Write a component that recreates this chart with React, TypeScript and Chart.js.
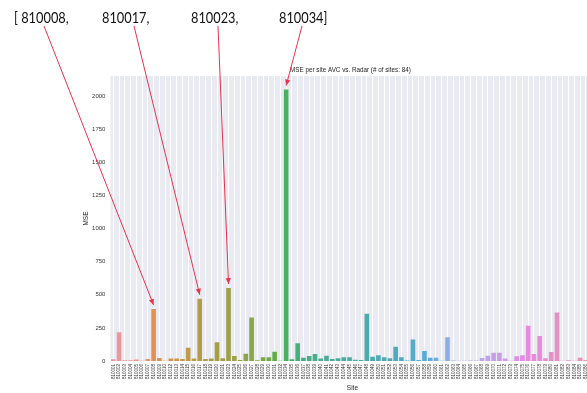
import React, { useEffect, useRef } from 'react';
import { Chart, registerables } from 'chart.js';

Chart.register(...registerables);

// Site identifiers along the x axis (84 sites)
const SITES = [
  '810001', '810002', '810003', '810004', '810005', '810006', '810007', '810008',
  '810009', '810010', '810012', '810013', '810014', '810015', '810016', '810017',
  '810018', '810019', '810020', '810021', '810023', '810024', '810025', '810026',
  '810027', '810028', '810029', '810030', '810031', '810032', '810034', '810035',
  '810036', '810037', '810038', '810039', '810040', '810041', '810042', '810043',
  '810044', '810045', '810046', '810047', '810048', '810049', '810050', '810051',
  '810052', '810053', '810054', '810055', '810056', '810057', '810058', '810059',
  '810060', '810061', '810062', '810063', '810064', '810065', '810066', '810067',
  '810068', '810069', '810070', '810071', '810072', '810073', '810074', '810075',
  '810076', '810077', '810078', '810079', '810080', '810081', '810082', '810083',
  '810084', '810085', '810086', '810087',
];

// Mean squared error per site
const MSE = [
  13, 217, 5, 5, 12, 1, 15, 392,
  22, 2, 18, 18, 15, 101, 18, 470,
  15, 18, 142, 20, 551, 38, 8, 55,
  328, 5, 28, 28, 70, 1, 2050, 13,
  134, 25, 38, 52, 18, 40, 15, 20,
  28, 28, 10, 8, 356, 33, 43, 28,
  20, 108, 28, 3, 162, 8, 76, 25,
  25, 2, 179, 3, 1, 1, 3, 3,
  22, 40, 63, 63, 18, 1, 35, 43,
  267, 53, 189, 20, 68, 366, 1, 5,
  1, 25, 8, 5,
];

const Y_TICKS = [0, 250, 500, 750, 1000, 1250, 1500, 1750, 2000];
const Y_MAX = 2152.5;

// Sites called out above the plot
const FLAGGED = ['810008', '810017', '810023', '810034'];

const TITLE = 'MSE per site AVC vs. Radar (# of sites: 84)';
const FONT = '"Liberation Sans", Arial, sans-serif';

// ---- HUSL palette (seaborn style) ----
const M = [
  [3.240969941904521, -1.537383177570093, -0.498610760293],
  [-0.96924363628087, 1.87596750150772, 0.041555057407175],
  [0.055630079696993, -0.20397695888897, 1.056971514242878],
];
const REF_U = 0.19783000664283;
const REF_V = 0.46831999493879;
const KAPPA = 903.2962962;
const EPS = 0.0088564516;

function bounds(L: number): [number, number][] {
  const out: [number, number][] = [];
  const sub1 = Math.pow(L + 16, 3) / 1560896;
  const sub2 = sub1 > EPS ? sub1 : L / KAPPA;
  for (let c = 0; c < 3; c++) {
    const [m1, m2, m3] = M[c];
    for (const t of [0, 1]) {
      const top1 = (284517 * m1 - 94839 * m3) * sub2;
      const top2 = (838422 * m3 + 769860 * m2 + 731718 * m1) * L * sub2 - 769860 * t * L;
      const bottom = (632260 * m3 - 126452 * m2) * sub2 + 126452 * t;
      out.push([top1 / bottom, top2 / bottom]);
    }
  }
  return out;
}

function maxChroma(L: number, H: number) {
  const hr = (H / 360) * Math.PI * 2;
  let min = Infinity;
  for (const [slope, inter] of bounds(L)) {
    const len = inter / (Math.sin(hr) - slope * Math.cos(hr));
    if (len >= 0 && len < min) min = len;
  }
  return min;
}

function fromLinear(c: number) {
  return c <= 0.0031308 ? 12.92 * c : 1.055 * Math.pow(c, 1 / 2.4) - 0.055;
}

function huslToRgb(H: number, S: number, L: number): number[] {
  const C = (maxChroma(L, H) / 100) * S;
  const hr = (H / 360) * Math.PI * 2;
  const U = C * Math.cos(hr);
  const V = C * Math.sin(hr);
  const Y = L <= 8 ? L / KAPPA : Math.pow((L + 16) / 116, 3);
  const vU = U / (13 * L) + REF_U;
  const vV = V / (13 * L) + REF_V;
  const X = 0 - (9 * Y * vU) / ((vU - 4) * vV - vU * vV);
  const Z = (9 * Y - 15 * vV * Y - vV * X) / (3 * vV);
  return M.map(([a, b, c]) => Math.min(1, Math.max(0, fromLinear(a * X + b * Y + c * Z))));
}

function rgbToHls(r: number, g: number, b: number) {
  const mx = Math.max(r, g, b);
  const mn = Math.min(r, g, b);
  const l = (mx + mn) / 2;
  if (mx === mn) return [0, l, 0];
  const d = mx - mn;
  const s = l <= 0.5 ? d / (mx + mn) : d / (2 - mx - mn);
  let h;
  if (mx === r) h = (g - b) / d + (g < b ? 6 : 0);
  else if (mx === g) h = (b - r) / d + 2;
  else h = (r - g) / d + 4;
  return [h / 6, l, s];
}

function hlsToRgb(h: number, l: number, s: number) {
  if (s === 0) return [l, l, l];
  const q = l < 0.5 ? l * (1 + s) : l + s - l * s;
  const p = 2 * l - q;
  const f = (t: number) => {
    if (t < 0) t += 1;
    if (t > 1) t -= 1;
    if (t < 1 / 6) return p + (q - p) * 6 * t;
    if (t < 1 / 2) return q;
    if (t < 2 / 3) return p + (q - p) * (2 / 3 - t) * 6;
    return p;
  };
  return [f(h + 1 / 3), f(h), f(h - 1 / 3)];
}

function barPalette(n: number, desat: number) {
  const cols: string[] = [];
  for (let i = 0; i < n; i++) {
    const h = ((i / n + 0.01) % 1) * 359;
    const [r, g, b] = huslToRgb(h, 0.9 * 99, 0.7 * 99);
    const [hh, ll, ss] = rgbToHls(r, g, b);
    const [r2, g2, b2] = hlsToRgb(hh, ll, ss * desat);
    cols.push(`rgb(${Math.round(r2 * 255)},${Math.round(g2 * 255)},${Math.round(b2 * 255)})`);
  }
  return cols;
}

// ---- plugins ----
const backdrop = {
  id: 'backdrop',
  beforeDraw(chart: any) {
    const { ctx, chartArea } = chart;
    ctx.save();
    ctx.fillStyle = '#EAEAF2';
    ctx.fillRect(chartArea.left, chartArea.top, chartArea.width, chartArea.height);
    ctx.restore();
  },
};

const plotTitle = {
  id: 'plotTitle',
  afterDraw(chart: any) {
    const { ctx, chartArea } = chart;
    ctx.save();
    ctx.font = `6.3px ${FONT}`;
    ctx.fillStyle = '#262626';
    ctx.textAlign = 'center';
    ctx.textBaseline = 'middle';
    ctx.fillText(TITLE, (chartArea.left + chartArea.right) / 2 - 2, chartArea.top - 5.5);
    ctx.restore();
  },
};

// label text left edge and arrow start for each flagged site
const CALLOUT_TEXT_X = [14, 102, 191, 279];
const CALLOUT_LINE_X = [44, 134, 218, 302];
const CALLOUT_SQUEEZE = 0.8;

const callouts = {
  id: 'callouts',
  afterDraw(chart: any) {
    const { ctx } = chart;
    const xs = chart.scales.x;
    const ys = chart.scales.y;
    ctx.save();
    FLAGGED.forEach((site, k) => {
      const label = (k === 0 ? '[ ' : '') + site + (k === FLAGGED.length - 1 ? ']' : ',');
      ctx.save();
      ctx.translate(CALLOUT_TEXT_X[k], 22.5);
      ctx.scale(CALLOUT_SQUEEZE, 1);
      ctx.font = `16px Lato, "Noto Sans", sans-serif`;
      ctx.fillStyle = '#111';
      ctx.textBaseline = 'alphabetic';
      ctx.fillText(label, 0, 0);
      ctx.restore();

      const idx = SITES.indexOf(site);
      const tx = xs.getPixelForValue(idx);
      const ty = ys.getPixelForValue(MSE[idx]) - 4;
      const sx = CALLOUT_LINE_X[k];
      const sy = 26;
      ctx.strokeStyle = '#e8334a';
      ctx.fillStyle = '#e8334a';
      ctx.lineWidth = 1;
      ctx.beginPath();
      ctx.moveTo(sx, sy);
      ctx.lineTo(tx, ty);
      ctx.stroke();
      const a = Math.atan2(ty - sy, tx - sx);
      const len = 6;
      const hw = 2.6;
      const bx = tx - len * Math.cos(a);
      const by = ty - len * Math.sin(a);
      ctx.beginPath();
      ctx.moveTo(tx, ty);
      ctx.lineTo(bx + hw * Math.sin(a), by - hw * Math.cos(a));
      ctx.lineTo(bx - hw * Math.sin(a), by + hw * Math.cos(a));
      ctx.closePath();
      ctx.fill();
    });
    ctx.restore();
  },
};

export default function App() {
  const ref = useRef<HTMLCanvasElement | null>(null);

  useEffect(() => {
    if (!ref.current) return;
    const chart = new Chart(ref.current, {
      type: 'bar',
      data: {
        labels: SITES,
        datasets: [
          {
            data: MSE,
            backgroundColor: barPalette(SITES.length, 0.75),
            borderWidth: 0,
            barPercentage: 0.8,
            categoryPercentage: 1,
          },
        ],
      },
      options: {
        responsive: false,
        animation: false,
        devicePixelRatio: 1,
        layout: { padding: { left: 70, right: 4, top: 76, bottom: 0 } },
        plugins: {
          legend: { display: false },
          tooltip: { enabled: false },
          title: { display: false },
        },
        scales: {
          x: {
            type: 'category',
            offset: true,
            grid: { display: true, color: '#ffffff', lineWidth: 1, offset: false, drawTicks: false },
            border: { display: false },
            ticks: {
              autoSkip: false,
              maxRotation: 90,
              minRotation: 90,
              padding: 3,
              color: '#333',
              font: { family: FONT, size: 4.5 },
            },
            title: {
              display: true,
              text: 'Site',
              color: '#262626',
              font: { family: FONT, size: 6.5 },
              padding: { top: 0, bottom: 0.6 },
            },
            afterFit(s: any) {
              s.height = 32;
            },
          },
          y: {
            min: 0,
            max: Y_MAX,
            grid: { display: false, drawTicks: false },
            border: { display: false },
            ticks: {
              padding: 5,
              color: '#333',
              font: { family: FONT, size: 6 },
              callback: (v: any) => String(v),
            },
            afterBuildTicks(s: any) {
              s.ticks = Y_TICKS.map((v) => ({ value: v }));
            },
            title: {
              display: true,
              text: 'MSE',
              color: '#262626',
              font: { family: FONT, size: 6.5 },
              padding: { top: 12, bottom: 0 },
            },
            afterFit(s: any) {
              s.width = 40.4;
            },
          },
        },
      },
      plugins: [backdrop, plotTitle, callouts],
    });
    return () => chart.destroy();
  }, []);

  return (
    <div
      style={{
        position: 'fixed',
        left: 0,
        top: 0,
        width: 587,
        height: 393,
        overflow: 'hidden',
        background: '#fff',
      }}
    >
      <canvas ref={ref} width={600} height={393} style={{ display: 'block' }} />
    </div>
  );
}
